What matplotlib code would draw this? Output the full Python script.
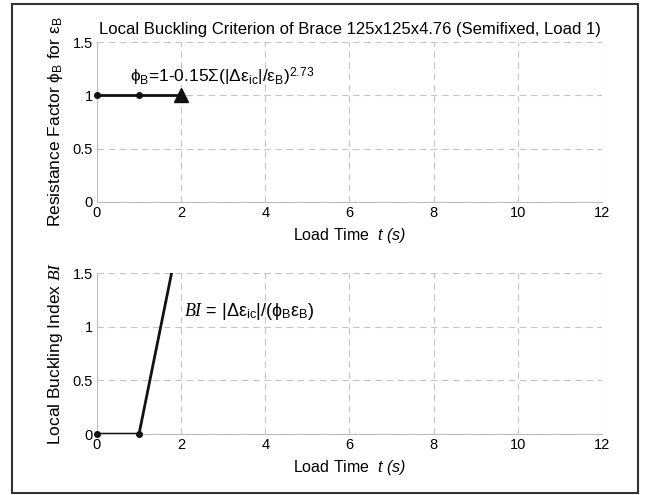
import matplotlib
matplotlib.use('Agg')
import matplotlib.pyplot as plt
from matplotlib.patches import Rectangle
from matplotlib.ticker import FormatStrFormatter

plt.rcParams['font.family'] = ['Liberation Sans', 'DejaVu Sans']
plt.rcParams['mathtext.fontset'] = 'custom'
plt.rcParams['mathtext.rm'] = 'Liberation Sans'
plt.rcParams['mathtext.it'] = 'Liberation Serif:italic'
plt.rcParams['mathtext.sf'] = 'Liberation Sans:italic'

# data
phi_t = [0, 1]
phi_val = [1, 1]
phi_last_t = 2
phi_last_val = 1

bi_t = [0, 1, 2]
bi_val = [0, 0, 1.94]

x_ticks = [0, 2, 4, 6, 8, 10, 12]
y_ticks = [0, 0.5, 1, 1.5]

line_col = '#111111'
grid_col = '#c4c4c4'
spine_col = '#bdbdbd'

fig = plt.figure(figsize=(6.46, 4.95), dpi=100)
ax1 = fig.add_axes([0.150, 0.592, 0.782, 0.323])
ax2 = fig.add_axes([0.150, 0.123, 0.782, 0.325])

for ax in (ax1, ax2):
    ax.set_xlim(0, 12)
    ax.set_ylim(0, 1.5)
    ax.set_xticks(x_ticks)
    ax.set_yticks(y_ticks)
    ax.yaxis.set_major_formatter(FormatStrFormatter('%g'))
    ax.grid(True, linestyle=(0, (6, 4)), color=grid_col, linewidth=0.8)
    ax.spines['top'].set_visible(False)
    ax.spines['right'].set_visible(False)
    ax.spines['left'].set_color(spine_col)
    ax.spines['bottom'].set_color(spine_col)
    ax.tick_params(length=0, labelsize=10.5, pad=3)
    ax.set_xlabel(r'Load Time  $\mathsf{t}$ $\mathsf{(s)}$', fontsize=11.5, labelpad=4)

ax1.plot(phi_t, phi_val, color=line_col, linewidth=2, marker='o', markersize=4, clip_on=False, zorder=3)
ax1.plot([phi_t[-1], phi_last_t], [phi_val[-1], phi_last_val], color=line_col, linewidth=2, zorder=3)
ax1.plot([phi_last_t], [phi_last_val], color=line_col, marker='^', markersize=10, linestyle='none', zorder=4)
ax1.set_title('Local Buckling Criterion of Brace 125x125x4.76 (Semifixed, Load 1)', fontsize=12, pad=6)
ax1.set_ylabel(r'Resistance Factor $\mathrm{ϕ}_{\mathrm{B}}$ for $\mathrm{ε}_{\mathrm{B}}$', fontsize=12.5, labelpad=5)
ax1.text(0.79, 1.125,
         r'$\mathrm{ϕ}_{\mathrm{B}}$=1-0.15Σ(|Δ$\mathrm{ε}_{\mathrm{ic}}$|/$\mathrm{ε}_{\mathrm{B}}$)$^{\mathrm{2.73}}$',
         fontsize=12.5, va='baseline', ha='left')

ax2.plot(bi_t, bi_val, color=line_col, linewidth=2, zorder=3)
ax2.plot(bi_t[:2], bi_val[:2], color=line_col, linewidth=0, marker='o', markersize=4, clip_on=False, zorder=4)
ax2.set_ylabel(r'Local Buckling Index $\mathit{BI}$', fontsize=12.5, labelpad=5)
ax2.text(2.08, 1.10,
         r'$\mathit{BI}$ = |Δ$\mathrm{ε}_{\mathrm{ic}}$|/($\mathrm{ϕ}_{\mathrm{B}}\mathrm{ε}_{\mathrm{B}}$)',
         fontsize=13, va='baseline', ha='left')

fig.patches.append(Rectangle((12 / 646, 2 / 495), 626 / 646, 489 / 495, transform=fig.transFigure,
                             fill=False, edgecolor='#333333', linewidth=1.5))

fig.savefig('out.png', dpi=100)
